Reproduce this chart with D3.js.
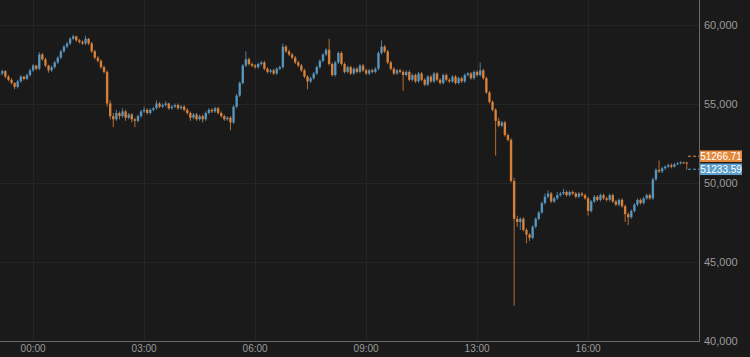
<!DOCTYPE html>
<html>
<head>
<meta charset="utf-8">
<script src="https://cdn.jsdelivr.net/npm/d3@7"></script>
<style>
  html, body { margin: 0; padding: 0; background: #1a1a1a; }
  svg { display: block; }
  text { font-family: "Liberation Sans", Arial, sans-serif; }
</style>
</head>
<body>
<svg width="750" height="357"></svg>
<script>
// [open, high, low, close]
const candles = [
  [56800,57200,56700,56900],[56900,57150,56800,57050],[57050,57100,56600,56700],[56700,56800,56400,56500],
  [56500,56600,56200,56300],[56300,56350,55900,56050],[56050,56500,55950,56400],[56400,56800,56300,56700],
  [56700,56750,56450,56550],[56550,56900,56500,56800],[56800,57200,56700,57100],[57100,57500,57000,57400],
  [57400,57450,57100,57200],[57200,58250,57100,58100],[58100,58200,57700,57800],[57800,57900,57300,57400],
  [57400,57450,56950,57100],[57100,57400,57000,57300],[57300,57700,57200,57600],[57600,58000,57500,57900],
  [57900,58400,57800,58300],[58300,58700,58200,58600],[58600,58900,58500,58800],[58800,59200,58700,59100],
  [59100,59350,59000,59250],[59250,59300,58900,59000],[59000,59100,58800,58900],[58900,59000,58700,58800],
  [58800,59300,58700,59100],[59100,59150,58700,58800],[58800,58900,58200,58300],[58300,58400,57800,57900],
  [57900,58000,57600,57700],[57700,57800,57200,57300],[57300,57400,56900,57000],[57000,57100,54800,55000],
  [55000,55200,54000,54200],[54200,54400,53500,54000],[54000,54600,53900,54400],[54400,54500,54000,54200],
  [54200,54700,54100,54500],[54500,54600,53900,54100],[54100,54400,54000,54300],[54300,54400,53800,54000],
  [54000,54100,53500,53900],[53900,54300,53800,54200],[54200,54600,54100,54500],[54500,54800,54400,54600],
  [54600,54700,54300,54400],[54400,54700,54300,54600],[54600,54800,54500,54700],[54700,55200,54600,55000],
  [55000,55100,54700,54800],[54800,55000,54700,54900],[54900,55150,54800,55000],[55000,55050,54600,54700],
  [54700,54900,54600,54800],[54800,55000,54700,54900],[54900,55000,54600,54700],[54700,54900,54600,54800],
  [54800,54900,54500,54600],[54600,54700,54300,54400],[54400,54500,53900,54100],[54100,54400,54000,54300],
  [54300,54400,53900,54000],[54000,54300,53900,54200],[54200,54300,53800,54000],[54000,54500,53900,54400],
  [54400,54700,54300,54600],[54600,54700,54400,54500],[54500,54800,54400,54700],[54700,54800,54300,54400],
  [54400,54500,54100,54200],[54200,54300,53900,54000],[54000,54200,53900,54100],[54100,54200,53300,53800],
  [53800,54900,53700,54800],[54800,55600,54700,55500],[55500,56400,55400,56300],[56300,57500,56200,57400],
  [57400,58300,57300,57800],[57800,57900,57400,57500],[57500,57600,57300,57400],[57400,57500,57200,57300],
  [57300,57600,57200,57500],[57500,57700,57400,57600],[57600,57700,57100,57200],[57200,57300,56900,57000],
  [57000,57200,56900,57100],[57100,57200,56800,56900],[56900,57300,56800,57200],[57200,57400,57100,57300],
  [57300,58800,57200,58600],[58600,58700,58200,58300],[58300,58400,58000,58100],[58100,58200,57800,57900],
  [57900,58000,57500,57600],[57600,57700,57300,57400],[57400,57500,57000,57100],[57100,57200,56600,56700],
  [56700,56800,55900,56400],[56400,56700,56300,56600],[56600,57000,56500,56900],[56900,57400,56800,57300],
  [57300,57800,57200,57700],[57700,58200,57600,58100],[58100,58500,58000,58400],[58400,59100,57400,57500],
  [57500,57600,56700,56800],[56800,57700,56700,57600],[57600,58300,57500,58200],[58200,58300,57400,57500],
  [57500,57600,56900,57000],[57000,57400,56900,57300],[57300,57400,56800,56900],[56900,57300,56800,57200],
  [57200,57300,56900,57000],[57000,57500,56900,57400],[57400,57500,57000,57100],[57100,57200,56800,56900],
  [56900,57200,56800,57100],[57100,57200,56900,57000],[57000,57300,56900,57200],[57200,58300,57100,58200],
  [58200,59000,58100,58600],[58600,58700,58200,58300],[58300,58400,57500,57600],[57600,57700,57100,57200],
  [57200,57300,56800,56900],[56900,57200,56800,57100],[57100,57200,56900,57000],[57000,57100,55800,56800],
  [56800,57100,56700,57000],[57000,57100,56400,56500],[56500,56900,56400,56800],[56800,56900,56300,56400],
  [56400,57000,56300,56900],[56900,57000,56400,56500],[56500,56600,56100,56200],[56200,56800,56100,56700],
  [56700,56800,56300,56400],[56400,57000,56300,56900],[56900,57000,56400,56500],[56500,56600,56200,56300],
  [56300,56900,56200,56800],[56800,56900,56400,56500],[56500,56600,56300,56400],[56400,56800,56300,56700],
  [56700,56800,56200,56300],[56300,56700,56200,56600],[56600,56700,56300,56400],[56400,56900,56300,56800],
  [56800,57000,56700,56900],[56900,57000,56500,56600],[56600,57100,56500,57000],[57000,57100,56700,56800],
  [56800,57600,56700,57100],[57100,57200,56500,56600],[56600,56700,55600,55700],[55700,55800,55000,55100],
  [55100,55200,54500,54600],[54600,54700,51700,53900],[53900,54100,53500,53600],[53600,53900,53500,53800],
  [53800,53900,52900,53000],[53000,53100,52600,52700],[52700,52800,50000,50100],[50100,50300,42200,47700],
  [47700,47900,47200,47500],[47500,47800,47000,47700],[47700,47800,46900,47000],[47000,47100,46150,46700],
  [46700,46800,46300,46500],[46500,47300,46400,47200],[47200,47800,47100,47700],[47700,48200,47600,48100],
  [48100,48800,48000,48700],[48700,49300,48600,49100],[49100,49500,49000,49300],[49300,49400,48700,48800],
  [48800,49100,48700,49000],[49000,49400,48900,49200],[49200,49400,49100,49300],[49300,49600,49200,49400],
  [49400,49500,49100,49200],[49200,49500,49100,49400],[49400,49500,49200,49300],[49300,49400,49000,49100],
  [49100,49400,49000,49300],[49300,49400,49100,49200],[49200,49300,48900,49000],[49000,49100,47900,48200],
  [48200,48900,48100,48800],[48800,49200,48700,49100],[49100,49200,48800,48900],[48900,49300,48800,49200],
  [49200,49300,48900,49000],[49000,49100,48800,48900],[48900,49300,48800,49200],[49200,49300,48700,48800],
  [48800,48900,48500,48600],[48600,49000,48500,48900],[48900,49000,48400,48500],[48500,48600,47500,48000],
  [48000,48100,47300,47800],[47800,48300,47700,48200],[48200,48700,48100,48600],[48600,49000,48500,48900],
  [48900,49000,48600,48700],[48700,49100,48600,49000],[49000,49300,48900,49200],[49200,49300,48900,49000],
  [49000,50300,48900,50200],[50200,50900,50100,50800],[50800,51400,50600,50700],[50700,51000,50600,50900],
  [50900,51100,50800,51000],[51000,51200,50900,51100],[51100,51200,50900,51000],[51000,51250,50950,51150],
  [51150,51300,51100,51200],[51200,51350,51150,51270],[51270,51320,51200,51266.71],[51266.71,51300,50800,51233.59]
];

const tickIndex = [11, 47, 83, 119, 155, 191];
const tickLabels = ["00:00", "03:00", "06:00", "09:00", "13:00", "16:00"];
const priceTicks = [40000, 45000, 50000, 55000, 60000];
const lastPrices = [51266.71, 51233.59];

const upColor = "#5b9ec9";
const downColor = "#e5893c";

const svg = d3.select("svg");
const plotRight = 699, plotBottom = 341;

const x = d3.scaleBand()
    .domain(d3.range(candles.length))
    .range([-2, 688])
    .paddingInner(0.22);

const y = d3.scaleLinear()
    .domain([40000, 60000])
    .range([340.5, 24.5]);

// grid
svg.append("g")
    .selectAll("line")
    .data(priceTicks)
    .enter().append("line")
    .attr("x1", 0).attr("x2", plotRight)
    .attr("y1", d => Math.round(y(d)) + 0.5)
    .attr("y2", d => Math.round(y(d)) + 0.5)
    .attr("stroke", "#252525");

svg.append("g")
    .selectAll("line")
    .data(tickIndex)
    .enter().append("line")
    .attr("x1", d => Math.round(x(d) + x.bandwidth() / 2) + 0.5)
    .attr("x2", d => Math.round(x(d) + x.bandwidth() / 2) + 0.5)
    .attr("y1", 0).attr("y2", plotBottom)
    .attr("stroke", "#252525");

// candles
const g = svg.append("g");
const color = d => d[3] >= d[0] ? upColor : downColor;

g.selectAll("line.wick")
    .data(candles)
    .enter().append("line")
    .attr("class", "wick")
    .attr("x1", (d, i) => x(i) + x.bandwidth() / 2)
    .attr("x2", (d, i) => x(i) + x.bandwidth() / 2)
    .attr("y1", d => y(d[1]))
    .attr("y2", d => y(d[2]))
    .attr("stroke", color)
    .attr("stroke-opacity", 0.75)
    .attr("stroke-width", 1);

g.selectAll("rect")
    .data(candles)
    .enter().append("rect")
    .attr("x", (d, i) => x(i))
    .attr("width", x.bandwidth())
    .attr("y", d => y(Math.max(d[0], d[3])))
    .attr("height", d => Math.max(1, Math.abs(y(d[0]) - y(d[3]))))
    .attr("fill", color)
    .attr("fill-opacity", 0.88);

// axis lines
svg.append("line")
    .attr("x1", plotRight + 0.5).attr("x2", plotRight + 0.5)
    .attr("y1", 0).attr("y2", plotBottom)
    .attr("stroke", "#6a6a6a");
svg.append("line")
    .attr("x1", 0).attr("x2", plotRight + 1)
    .attr("y1", plotBottom + 0.5).attr("y2", plotBottom + 0.5)
    .attr("stroke", "#6a6a6a");

// y axis labels
const yAxis = svg.append("g")
    .attr("transform", `translate(${plotRight},0)`)
    .call(d3.axisRight(y).tickValues(priceTicks).tickFormat(d3.format(",")).tickSize(0).tickPadding(5));
yAxis.select(".domain").remove();
yAxis.selectAll("text").attr("fill", "#9a9a9a").attr("font-size", 11)
    .attr("font-family", "'Liberation Sans', Arial, sans-serif");

// x axis labels
const xAxis = svg.append("g")
    .attr("transform", `translate(0,${plotBottom})`)
    .call(d3.axisBottom(x).tickValues(tickIndex).tickFormat((d, i) => tickLabels[i]).tickSize(0).tickPadding(4));
xAxis.select(".domain").remove();
xAxis.selectAll("text").attr("fill", "#9a9a9a").attr("font-size", 10)
    .attr("font-family", "'Liberation Sans', Arial, sans-serif");

// last price markers
const lastX = x(candles.length - 1) + x.bandwidth();
const midY = (y(lastPrices[0]) + y(lastPrices[1])) / 2;
const markers = [
    { value: lastPrices[0], cy: midY - 6.5, fill: downColor },
    { value: lastPrices[1], cy: midY + 6.5, fill: upColor }
];

const mk = svg.append("g").selectAll("g")
    .data(markers)
    .enter().append("g");

mk.append("line")
    .attr("x1", lastX).attr("x2", plotRight)
    .attr("y1", d => d.cy).attr("y2", d => d.cy)
    .attr("stroke", d => d.fill)
    .attr("stroke-dasharray", "3,2");

mk.append("rect")
    .attr("x", plotRight + 1)
    .attr("y", d => d.cy - 5.8)
    .attr("width", 42)
    .attr("height", 11.6)
    .attr("fill", d => d.fill);

mk.append("text")
    .attr("x", plotRight + 22)
    .attr("y", d => d.cy)
    .attr("dy", "0.36em")
    .attr("text-anchor", "middle")
    .attr("fill", "#ffffff")
    .attr("font-size", 10)
    .text(d => d.value.toFixed(2));
</script>
</body>
</html>
